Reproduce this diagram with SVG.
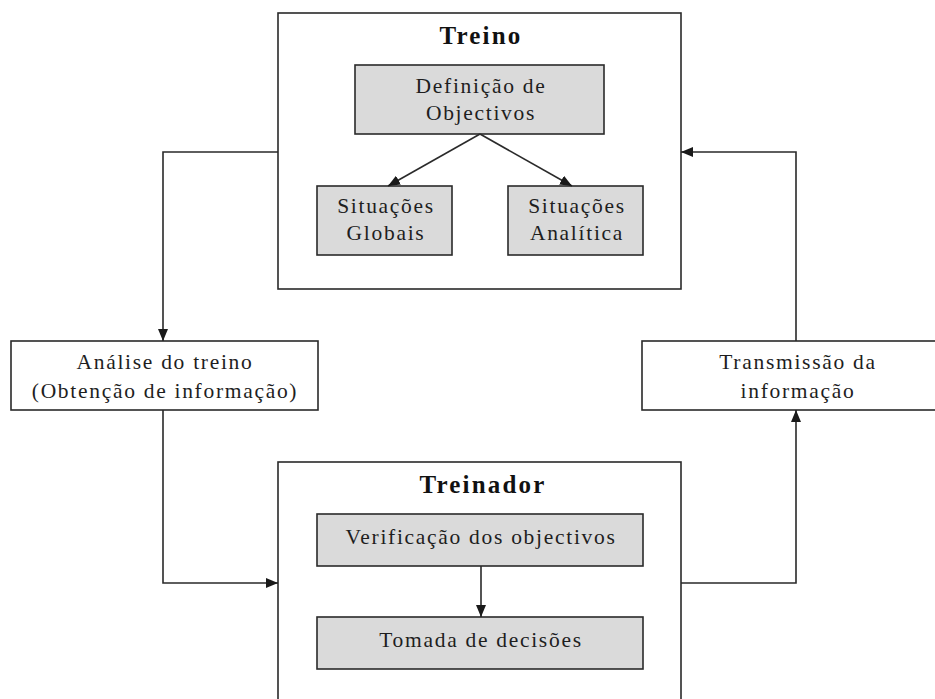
<svg xmlns="http://www.w3.org/2000/svg" width="935" height="699" viewBox="0 0 935 699">
<defs>
<marker id="arr" markerWidth="12" markerHeight="10" refX="12" refY="5" orient="auto" markerUnits="userSpaceOnUse">
<path d="M0,0 L12,5 L0,10 Z" fill="#1a1a1a"/>
</marker>
<style>
.frame{fill:#ffffff;stroke:#2a2a2a;stroke-width:1.6}
.box{fill:#dadada;stroke:#2a2a2a;stroke-width:1.6}
.t{font-family:"Liberation Serif","Times New Roman",serif;font-size:21.5px;letter-spacing:1.7px;fill:#1e1e1e;text-anchor:middle}
.h{font-family:"Liberation Serif","Times New Roman",serif;font-size:25px;font-weight:bold;letter-spacing:2.2px;fill:#111;text-anchor:middle}
.c{fill:none;stroke:#2a2a2a;stroke-width:1.6}
</style>
</defs>
<rect width="935" height="699" fill="#ffffff"/>
<g id="treino">
<rect class="frame" x="278" y="13" width="403" height="276"/>
<text class="h" x="481" y="44">Treino</text>
</g>
<g id="definicao">
<rect class="box" x="355" y="65" width="249" height="69"/>
<text class="t" x="481" y="93">Definição de</text>
<text class="t" x="481" y="120">Objectivos</text>
</g>
<g id="globais">
<rect class="box" x="317" y="186" width="135" height="69"/>
<text class="t" x="386" y="213">Situações</text>
<text class="t" x="386" y="240">Globais</text>
</g>
<g id="analitica">
<rect class="box" x="508" y="186" width="135" height="69"/>
<text class="t" x="577" y="213">Situações</text>
<text class="t" x="577" y="240">Analítica</text>
</g>
<g id="analise">
<rect class="frame" x="11" y="341" width="307" height="69"/>
<text class="t" x="165" y="369">Análise do treino</text>
<text class="t" x="165" y="398">(Obtenção de informação)</text>
</g>
<g id="transmissao">
<rect class="frame" x="642" y="341" width="300" height="69"/>
<text class="t" x="798" y="369">Transmissão da</text>
<text class="t" x="798" y="398">informação</text>
</g>
<g id="treinador">
<rect class="frame" x="278" y="462" width="403" height="260"/>
<text class="h" x="483" y="493">Treinador</text>
</g>
<g id="verificacao">
<rect class="box" x="317" y="514" width="326" height="52"/>
<text class="t" x="481" y="544">Verificação dos objectivos</text>
</g>
<g id="tomada">
<rect class="box" x="317" y="617" width="326" height="52"/>
<text class="t" x="481" y="647">Tomada de decisões</text>
</g>
<g id="connectors">
<path class="c" d="M480,134 L388,186" marker-end="url(#arr)"/>
<path class="c" d="M480,134 L572,186" marker-end="url(#arr)"/>
<path class="c" d="M278,152 L163,152 L163,341" marker-end="url(#arr)"/>
<path class="c" d="M163,410 L163,583 L278,583" marker-end="url(#arr)"/>
<path class="c" d="M681,583 L796,583 L796,410" marker-end="url(#arr)"/>
<path class="c" d="M796,341 L796,152 L681,152" marker-end="url(#arr)"/>
<path class="c" d="M481,566 L481,617" marker-end="url(#arr)"/>
</g>
</svg>
